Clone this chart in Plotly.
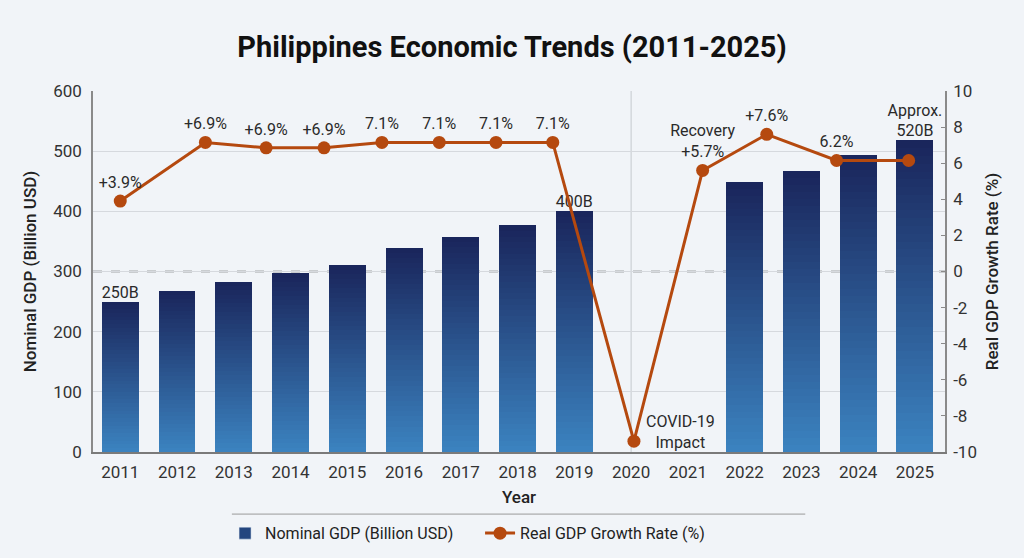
import plotly.graph_objects as go

# ==== DADOS ====
gdp_years = [2011, 2012, 2013, 2014, 2015, 2016, 2017, 2018, 2019, 2022, 2023, 2024, 2025]
gdp_values = [250, 267, 283, 297, 311, 339, 358, 377, 400, 448, 467, 494, 518]
gdp_labels = ["250B", "", "", "", "", "", "", "", "400B", "", "", "", "Approx.<br>520B"]

# posicao dos pontos da linha ao longo do eixo de anos
growth_x = [2011.0, 2012.5, 2013.57, 2014.59, 2015.61, 2016.62, 2017.62, 2018.62,
            2020.05, 2021.26, 2022.39, 2023.62, 2024.89]
growth_values = [3.9, 7.15, 6.85, 6.85, 7.15, 7.15, 7.15, 7.15, -9.4, 5.6, 7.6, 6.15, 6.15]
growth_labels = ["+3.9%", "+6.9%", "+6.9%", "+6.9%", "7.1%", "7.1%", "7.1%", "7.1%",
                 "", "Recovery<br>+5.7%", "+7.6%", "6.2%", ""]

year_ticks = list(range(2011, 2026))
gdp_ticks = [0, 100, 200, 300, 400, 500, 600]
growth_ticks = [-10, -8, -6, -4, -2, 0, 2, 4, 6, 8, 10]

# ==== ESTILO ====
FONT = "Roboto"
BG = "#f1f4f8"
LINE_COLOR = "#b5490f"
TOP_RGB = (26, 38, 92)
BOTTOM_RGB = (59, 130, 191)
N_SEG = 40

fig = go.Figure()

# barras com gradiente: empilha segmentos finos do claro (base) ao escuro (topo)
for i in range(N_SEG):
    t = i / (N_SEG - 1)
    rgb = [round(b + (tp - b) * t) for b, tp in zip(BOTTOM_RGB, TOP_RGB)]
    fig.add_trace(go.Bar(
        x=gdp_years,
        y=[v / N_SEG for v in gdp_values],
        width=0.65,
        marker=dict(color=f"rgb({rgb[0]},{rgb[1]},{rgb[2]})", line=dict(width=0)),
        showlegend=False,
        hoverinfo="skip",
    ))

# rotulos das barras
fig.add_trace(go.Scatter(
    x=gdp_years,
    y=gdp_values,
    mode="text",
    text=gdp_labels,
    textposition="top center",
    textfont=dict(family=FONT, size=16, color="#2a2a2a"),
    showlegend=False,
    hoverinfo="skip",
    cliponaxis=False,
))

# entrada de legenda das barras
fig.add_trace(go.Bar(
    x=[None], y=[None],
    name="Nominal GDP (Billion USD)",
    marker=dict(color="#24467f"),
))

# linha de crescimento
fig.add_trace(go.Scatter(
    x=growth_x,
    y=growth_values,
    yaxis="y2",
    mode="lines+markers+text",
    name="Real GDP Growth Rate (%)",
    line=dict(color=LINE_COLOR, width=3),
    marker=dict(color=LINE_COLOR, size=13),
    text=growth_labels,
    textposition="top center",
    textfont=dict(family=FONT, size=16, color="#2a2a2a"),
    cliponaxis=False,
))

fig.add_annotation(
    x=growth_x[8], y=growth_values[8], yref="y2",
    text="COVID-19<br>Impact",
    showarrow=False,
    xanchor="left", yanchor="middle",
    xshift=10, yshift=9,
    font=dict(family=FONT, size=16, color="#2a2a2a"),
)

fig.update_layout(
    width=1024,
    height=558,
    barmode="stack",
    bargap=0,
    paper_bgcolor=BG,
    plot_bgcolor=BG,
    margin=dict(l=93, r=79, t=91, b=106, autoexpand=False),
    font=dict(family=FONT, size=16, color="#333333"),
    title=dict(
        text="<b>Philippines Economic Trends (2011-2025)</b>",
        x=0.5, xanchor="center", y=1 - 47 / 558, yanchor="middle",
        font=dict(family=FONT, size=29, color="#111111"),
    ),
    xaxis=dict(
        range=[2010.52, 2025.53],
        tickvals=year_ticks,
        ticktext=[str(y) for y in year_ticks],
        showgrid=False,
        showline=True, linecolor="#7a7a7a", linewidth=1.5,
        title=dict(text="Year", font=dict(size=17, weight=500, color="#222222"), standoff=10),
        tickfont=dict(size=17, color="#333333"),
        ticklabelstandoff=4,
        zeroline=False,
    ),
    yaxis=dict(
        range=[0, 600],
        tickvals=gdp_ticks,
        ticktext=[str(v) for v in gdp_ticks],
        showgrid=True, gridcolor="#d6d9de", gridwidth=1,
        showline=True, linecolor="#8a8a8a", linewidth=1.5,
        title=dict(text="Nominal GDP (Billion USD)", font=dict(size=17, weight=500, color="#222222"), standoff=12),
        tickfont=dict(size=17, color="#333333"),
        ticklabelstandoff=6,
        zeroline=False,
    ),
    yaxis2=dict(
        range=[-10, 10],
        tickvals=growth_ticks,
        ticktext=[str(v) for v in growth_ticks],
        overlaying="y",
        side="right",
        showgrid=False,
        showline=True, linecolor="#8a8a8a", linewidth=1.5,
        ticks="inside", ticklen=4, tickcolor="#8a8a8a",
        title=dict(text="Real GDP Growth Rate (%)", font=dict(size=17, weight=500, color="#222222"), standoff=10),
        tickfont=dict(size=17, color="#333333"),
        ticklabelstandoff=3,
        zeroline=False,
    ),
    legend=dict(
        orientation="h",
        x=0.155, xanchor="left",
        y=-0.225, yanchor="middle",
        font=dict(family=FONT, size=16, color="#222222"),
        bgcolor="rgba(0,0,0,0)",
        traceorder="normal",
        entrywidth=210,
    ),
    shapes=[
        # linha vertical em 2020
        dict(type="line", xref="x", yref="paper", x0=2020, x1=2020, y0=0, y1=1,
             line=dict(color="#c5c9cf", width=1), layer="between"),
        # zero tracejado do eixo de crescimento
        dict(type="line", xref="paper", yref="y2", x0=0, x1=1, y0=0, y1=0,
             line=dict(color="#555555", width=1.3, dash="dash"), layer="between"),
        # separador acima da legenda
        dict(type="line", xref="paper", yref="paper", x0=0.163, x1=0.836, y0=-0.172, y1=-0.172,
             line=dict(color="#9a9a9a", width=1)),
    ],
)

fig.write_html(
    "out.html",
    config={"displayModeBar": False},
    post_script="document.body.style.margin='0';document.body.style.overflow='hidden';",
)
